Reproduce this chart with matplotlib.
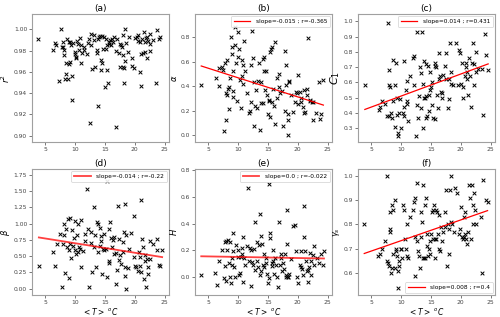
import matplotlib
matplotlib.use("Agg")
import matplotlib.pyplot as plt
import numpy as np

# ---------------- data ----------------
T_a = [3.8, 6.2, 6.6, 6.8, 7.2, 7.7, 7.8, 7.9, 8.0, 8.1, 8.2, 8.3, 8.4, 8.5, 8.7, 8.8, 8.9, 9.0, 9.1, 9.2,
       9.3, 9.5, 9.5, 9.6, 9.9, 10.0, 10.1, 10.2, 10.3, 10.4, 10.6, 10.8, 10.9, 11.0, 11.2, 11.4, 11.5, 11.9,
       12.2, 12.3, 12.5, 12.6, 12.7, 12.9, 13.1, 13.2, 13.4, 13.6, 13.6, 13.8, 13.9, 14.0, 14.2, 14.3, 14.4,
       14.5, 14.5, 14.7, 14.9, 15.0, 15.1, 15.1, 15.3, 15.4, 15.5, 15.6, 15.7, 15.9, 16.0, 16.2, 16.4, 16.6,
       16.8, 16.9, 17.0, 17.3, 17.5, 17.6, 17.7, 17.9, 18.0, 18.1, 18.1, 18.2, 18.2, 18.3, 18.4, 18.5, 18.8,
       19.1, 19.5, 19.6, 19.9, 20.1, 20.3, 20.5, 20.6, 20.8, 20.9, 21.1, 21.1, 21.3, 21.4, 21.5, 21.7, 21.8,
       21.9, 22.0, 22.1, 22.2, 22.5, 22.6, 22.5, 23.0, 23.6, 23.8, 24.0, 24.3]
r2 = [0.991, 0.981, 0.987, 0.985, 0.951, 1.000, 0.983, 0.988, 0.983, 0.976, 0.981, 0.953, 0.958, 0.968, 0.991,
      0.953, 0.988, 0.967, 0.969, 0.988, 0.985, 0.956, 0.934, 0.987, 0.979, 0.977, 0.974, 0.973, 0.989, 0.986,
      0.981, 0.992, 0.968, 0.985, 0.978, 0.983, 0.981, 0.977, 0.987, 0.991, 0.912, 0.985, 0.996, 0.963, 0.990,
      0.995, 0.965, 0.981, 0.978, 0.928, 0.991, 0.993, 0.994, 0.971, 0.962, 0.968, 0.994, 0.982, 0.993, 0.946,
      0.982, 0.991, 0.985, 0.962, 0.950, 0.986, 0.988, 0.990, 0.985, 0.991, 0.988, 0.993, 0.980, 0.908, 0.991,
      0.978, 0.965, 0.986, 0.985, 0.983, 0.965, 0.995, 0.976, 0.964, 0.950, 0.970, 1.000, 0.987, 0.979, 0.993,
      0.973, 0.966, 0.964, 0.992, 0.993, 0.995, 0.989, 0.988, 0.960, 0.977, 0.947, 0.991, 0.978, 0.998, 0.988,
      0.979, 0.992, 0.993, 0.973, 0.989, 0.996, 0.986, 0.980, 0.990, 0.950, 0.999, 0.991, 0.993]

T_b = [3.8, 6.2, 6.7, 6.8, 7.3, 7.5, 7.7, 7.8, 7.9, 8.0, 8.1, 8.2, 8.3, 8.4, 8.5, 8.6, 8.8, 8.9, 9.0, 9.1,
       9.2, 9.2, 9.4, 9.5, 9.6, 9.8, 9.9, 10.0, 10.1, 10.3, 10.4, 10.6, 10.7, 10.8, 10.8, 10.9, 11.2, 11.4,
       11.8, 11.9, 12.1, 12.2, 12.3, 12.5, 12.6, 12.7, 12.9, 13.0, 13.2, 13.4, 13.5, 13.7, 13.8, 13.9, 14.1,
       14.2, 14.3, 14.4, 14.5, 14.7, 14.8, 15.0, 15.1, 15.2, 15.3, 15.4, 15.5, 15.6, 15.7, 15.8, 16.0, 16.1,
       16.2, 16.5, 16.6, 16.8, 16.9, 17.0, 17.3, 17.5, 17.8, 17.9, 18.0, 18.1, 18.3, 18.3, 18.4, 18.5, 18.6,
       18.9, 19.2, 19.5, 19.7, 19.8, 20.0, 20.1, 20.3, 20.5, 20.6, 20.8, 21.0, 21.0, 21.3, 21.5, 21.6, 21.8,
       22.0, 22.1, 22.4, 22.6, 22.6, 23.1, 23.5, 23.7, 23.9, 24.3]
alpha = [0.41, 0.47, 0.55, 0.40, 0.56, 0.53, 0.03, 0.59, 0.12, 0.34, 0.61, 0.33, 0.38, 0.39, 0.21, 0.47, 0.80,
         0.66, 0.72, 0.52, 0.36, 0.31, 0.74, 0.88, 0.59, 0.28, 0.84, 0.64, 0.70, 0.45, 0.22, 0.61, 0.48, 0.42,
         0.57, 0.77, 0.52, 0.34, 0.18, 0.20, 0.27, 0.57, 0.85, 0.63, 0.07, 0.43, 0.24, 0.37, 0.22, 0.44, 0.59,
         0.04, 0.26, 0.43, 0.26, 0.62, 0.64, 0.52, 0.37, 0.52, 0.33, 0.17, 0.28, 0.29, 0.15, 0.68, 0.70, 0.27,
         0.72, 0.38, 0.24, 0.09, 0.76, 0.30, 0.47, 0.50, 0.39, 0.34, 0.36, 0.07, 0.20, 0.69, 0.41, 0.57, 0.12,
         0.17, 0.00, 0.43, 0.44, 0.33, 0.19, 0.27, 0.35, 0.34, 0.49, 0.25, 0.35, 0.30, 0.27, 0.23, 0.37, 0.18,
         0.19, 0.38, 0.33, 0.79, 0.29, 0.28, 0.27, 0.12, 0.27, 0.18, 0.43, 0.13, 0.17, 0.45]

T_c = [3.9, 6.2, 6.5, 6.8, 7.3, 7.6, 7.8, 7.9, 8.0, 8.1, 8.0, 8.3, 8.5, 8.6, 8.7, 8.9, 9.0, 9.1, 9.3, 9.3,
       9.5, 9.5, 9.7, 9.8, 10.0, 10.3, 10.4, 10.5, 10.5, 10.8, 10.9, 10.9, 11.0, 11.2, 11.5, 11.9, 12.1, 12.1,
       12.5, 12.6, 12.7, 12.8, 13.0, 13.1, 13.3, 13.4, 13.5, 13.6, 13.7, 13.8, 13.9, 14.0, 14.1, 14.2, 14.2,
       14.4, 14.5, 14.6, 14.7, 14.8, 14.9, 15.0, 15.1, 15.2, 15.4, 15.6, 15.7, 15.7, 15.9, 16.0, 16.1, 16.3,
       16.4, 16.5, 16.7, 16.8, 16.9, 17.1, 17.4, 17.5, 17.6, 17.9, 18.0, 18.0, 18.2, 18.3, 18.4, 18.7, 19.2,
       19.6, 19.7, 19.8, 20.1, 20.2, 20.3, 20.4, 20.7, 20.8, 20.9, 21.0, 21.1, 21.2, 21.4, 21.5, 21.8, 21.9,
       22.0, 22.2, 22.3, 22.5, 22.6, 22.9, 23.6, 23.7, 24.0, 24.3, 24.6]
C1 = [0.58, 0.42, 0.44, 0.48, 0.46, 0.38, 0.99, 0.68, 0.58, 0.57, 0.38, 0.40, 0.37, 0.75, 0.48, 0.31, 0.58,
      0.73, 0.50, 0.39, 0.27, 0.25, 0.40, 0.49, 0.30, 0.40, 0.38, 0.44, 0.74, 0.55, 0.61, 0.48, 0.46, 0.35,
      0.64, 0.76, 0.77, 0.58, 0.25, 0.93, 0.45, 0.37, 0.51, 0.70, 0.43, 0.66, 0.93, 0.59, 0.30, 0.50, 0.74,
      0.50, 0.72, 0.37, 0.51, 0.38, 0.71, 0.41, 0.52, 0.67, 0.55, 0.57, 0.60, 0.45, 0.37, 0.71, 0.73, 0.36,
      0.70, 0.52, 0.43, 0.79, 0.62, 0.64, 0.54, 0.53, 0.50, 0.65, 0.71, 0.79, 0.62, 0.43, 0.49, 0.62, 0.86,
      0.67, 0.59, 0.58, 0.86, 0.58, 0.81, 0.79, 0.59, 0.73, 0.50, 0.57, 0.64, 0.73, 0.70, 0.67, 0.62, 0.52,
      0.76, 0.64, 0.44, 0.73, 0.86, 0.58, 0.72, 0.80, 0.67, 0.69, 0.69, 0.39, 0.92, 0.78, 0.68]

T_d = [3.9, 6.2, 6.6, 6.9, 7.4, 7.8, 7.9, 8.1, 8.2, 8.3, 8.5, 8.6, 8.8, 8.9, 9.0, 9.2, 9.2, 9.3, 9.4, 9.6,
       9.8, 9.9, 10.0, 10.2, 10.3, 10.4, 10.5, 10.7, 10.8, 11.0, 11.0, 11.3, 11.6, 11.7, 12.0, 12.2, 12.4,
       12.6, 12.7, 12.8, 13.1, 13.2, 13.3, 13.5, 13.7, 13.8, 13.9, 14.1, 14.2, 14.3, 14.4, 14.5, 14.6, 14.8,
       14.9, 15.2, 15.4, 15.4, 15.6, 15.6, 15.7, 15.9, 16.0, 16.2, 16.3, 16.5, 16.6, 16.9, 16.9, 17.0, 17.2,
       17.3, 17.4, 17.6, 17.7, 18.0, 18.1, 18.2, 18.4, 18.4, 18.4, 18.6, 18.6, 18.8, 19.0, 19.3, 19.8, 19.9,
       20.0, 20.2, 20.5, 20.7, 20.8, 20.9, 21.1, 21.1, 21.3, 21.4, 21.6, 21.7, 21.8, 21.9, 22.0, 22.2, 22.3,
       22.5, 22.6, 23.0, 23.7, 23.8, 24.1, 24.3, 24.6]
beta = [0.35, 0.56, 0.35, 0.68, 0.84, 0.02, 0.69, 0.99, 0.82, 0.24, 0.92, 0.64, 1.07, 0.60, 0.16, 1.08, 0.69,
        0.47, 0.90, 0.66, 0.78, 0.60, 1.04, 0.53, 0.82, 0.56, 0.99, 0.64, 0.61, 1.05, 0.34, 0.58, 0.84, 0.73,
        1.54, 0.92, 0.02, 0.87, 0.70, 0.25, 0.64, 1.26, 0.82, 0.33, 1.03, 0.56, 1.00, 0.66, 0.94, 0.81, 0.74,
        0.22, 0.61, 0.84, 0.59, 0.61, 1.65, 0.18, 0.92, 0.43, 0.39, 1.02, 0.78, 0.64, 0.75, 0.53, 0.79, 0.07,
        0.55, 0.28, 1.27, 0.76, 0.44, 0.52, 0.38, 0.71, 0.56, 0.87, 1.30, 0.33, 0.20, 0.82, 0.00, 0.31, 0.61,
        0.86, 1.11, 0.49, 0.35, 0.33, 0.27, 0.56, 0.48, 0.35, 1.37, 0.25, 0.77, 0.64, 0.15, 0.52, 0.43, 0.02,
        0.46, 0.33, 0.23, 0.73, 0.46, 0.69, 0.60, 0.77, 0.37, 0.35, 0.59]

T_e = [3.8, 6.1, 6.4, 6.8, 7.2, 7.6, 7.8, 7.8, 7.9, 8.0, 8.1, 8.3, 8.4, 8.6, 8.7, 8.8, 8.9, 9.0, 9.2, 9.2,
       9.3, 9.4, 9.6, 9.9, 10.0, 10.1, 10.3, 10.4, 10.6, 10.7, 10.8, 10.8, 11.0, 11.1, 11.4, 11.7, 11.8, 11.9,
       12.1, 12.2, 12.3, 12.5, 12.7, 12.9, 12.9, 13.1, 13.2, 13.3, 13.5, 13.6, 13.6, 13.8, 13.9, 14.0, 14.2,
       14.3, 14.4, 14.6, 14.7, 14.8, 15.0, 15.1, 15.2, 15.3, 15.4, 15.6, 15.7, 15.8, 15.9, 16.0, 16.1, 16.4,
       16.6, 16.7, 16.8, 17.0, 17.2, 17.2, 17.3, 17.5, 17.7, 17.9, 18.0, 18.1, 18.2, 18.2, 18.3, 18.4, 18.6,
       18.9, 19.2, 19.6, 19.7, 19.9, 20.1, 20.3, 20.5, 20.6, 20.7, 20.8, 21.0, 21.1, 21.2, 21.4, 21.6, 21.7,
       21.8, 21.9, 22.1, 22.2, 22.3, 22.5, 22.7, 22.8, 23.3, 23.6, 23.9, 24.2, 24.4]
H = [0.01, 0.03, -0.06, 0.12, 0.20, -0.01, 0.08, 0.26, 0.27, -0.03, 0.20, 0.28, 0.10, 0.26, 0.00, -0.05, 0.09,
     0.14, 0.33, 0.19, 0.07, 0.00, 0.24, 0.15, 0.20, 0.01, 0.03, 0.15, 0.22, 0.17, 0.30, -0.04, 0.14, 0.09,
     0.23, 0.67, 0.12, 0.22, 0.20, -0.07, 0.11, 0.09, 0.21, 0.41, 0.05, 0.12, 0.26, 0.07, 0.24, 0.01, 0.47,
     0.04, 0.31, 0.25, 0.09, 0.17, 0.07, 0.14, 0.10, 0.02, -0.05, 0.70, -0.01, 0.33, 0.29, 0.10, 0.08, 0.20,
     0.12, 0.02, 0.14, 0.09, 0.00, -0.08, 0.41, 0.09, 0.17, 0.14, 0.04, 0.10, 0.06, 0.17, 0.01, 0.00, 0.50,
     0.25, 0.00, 0.00, 0.02, 0.13, 0.38, 0.39, 0.19, 0.00, -0.05, 0.09, 0.19, 0.07, 0.06, 0.01, 0.53, 0.30,
     0.19, 0.12, 0.04, 0.05, -0.04, 0.07, 0.18, 0.12, 0.01, 0.16, 0.09, 0.23, 0.14, 0.10, 0.17, 0.09, 0.19]

T_f = [3.8, 6.1, 6.4, 6.7, 7.2, 7.6, 7.7, 7.8, 7.9, 8.1, 8.2, 8.1, 8.3, 8.4, 8.5, 8.6, 8.7, 8.9, 9.0, 9.1,
       9.2, 9.3, 9.4, 9.5, 9.6, 9.7, 9.9, 10.0, 10.2, 10.3, 10.4, 10.6, 10.8, 10.9, 11.0, 11.1, 11.4, 11.9,
       12.1, 12.3, 12.4, 12.4, 12.6, 12.7, 12.8, 13.0, 13.2, 13.3, 13.4, 13.5, 13.6, 13.7, 13.9, 14.0, 14.0,
       14.2, 14.3, 14.4, 14.5, 14.6, 14.8, 14.9, 15.0, 15.2, 15.3, 15.4, 15.5, 15.6, 15.7, 15.8, 15.9, 16.0,
       16.1, 16.3, 16.4, 16.6, 16.7, 16.9, 17.0, 17.3, 17.4, 17.5, 17.7, 17.9, 18.0, 18.1, 18.2, 18.3, 18.4,
       18.6, 18.9, 19.1, 19.4, 19.7, 19.9, 20.0, 20.2, 20.3, 20.5, 20.6, 20.7, 20.7, 20.8, 21.0, 21.3, 21.4,
       21.5, 21.7, 21.9, 22.0, 22.1, 22.3, 22.4, 22.6, 23.4, 23.6, 23.8, 24.2, 24.5]
gamma_s = [0.80, 0.67, 0.68, 0.70, 0.73, 1.00, 0.65, 0.64, 0.63, 0.77, 0.78, 0.85, 0.60, 0.62, 0.88, 0.86,
           0.68, 0.62, 0.90, 0.69, 0.70, 0.67, 0.54, 0.61, 0.65, 0.63, 0.70, 0.70, 0.66, 0.88, 0.86, 0.74, 0.70,
           0.80, 0.67, 0.66, 0.83, 0.86, 0.89, 0.91, 0.75, 0.59, 0.97, 0.73, 0.69, 0.67, 0.62, 0.85, 0.75, 0.81,
           0.96, 0.66, 0.66, 0.88, 0.66, 0.91, 0.76, 0.71, 0.67, 0.70, 0.68, 0.73, 0.76, 0.85, 0.74, 0.86, 0.88,
           0.74, 0.66, 0.86, 0.74, 0.85, 0.76, 0.70, 0.84, 0.69, 0.79, 0.73, 0.77, 0.79, 0.85, 0.94, 0.63, 0.80,
           0.78, 0.68, 0.94, 1.00, 0.81, 0.80, 0.77, 0.95, 0.93, 0.76, 0.78, 0.87, 0.75, 0.74, 0.75, 0.83, 0.85,
           0.76, 0.74, 0.72, 0.77, 0.96, 0.91, 0.74, 0.96, 0.80, 0.88, 0.93, 0.86, 0.80, 0.83, 0.60, 0.98, 0.90,
           0.89]

fit_slope = [None, -0.0156, 0.0144, -0.0146, -0.0008, 0.0085]
fit_intercept = [None, 0.624, 0.367, 0.844, 0.157, 0.648]
fit_labels = [None, "slope=-0.015 ; r=-0.365", "slope=0.014 ; r=0.431",
              "slope=-0.014 ; r=-0.22", "slope=0.0 ; r=-0.022", "slope=0.008 ; r=0.4"]
titles = ["(a)", "(b)", "(c)", "(d)", "(e)", "(f)"]
ylabels = [r"$r^2$", r"$\alpha$", r"$C_1$", r"$\beta$", r"$H$", r"$\gamma_s$"]
xlabel = r"$<T>$ $^oC$"
ylims = [(0.894, 1.0145), (-0.057, 0.99), (0.21, 1.048), (-0.098, 1.84), (-0.137, 0.81), (0.51, 1.027)]
yticks = [[0.90, 0.92, 0.94, 0.96, 0.98, 1.00], [0.0, 0.2, 0.4, 0.6, 0.8],
          [0.3, 0.4, 0.5, 0.6, 0.7, 0.8, 0.9, 1.0], [0.0, 0.25, 0.5, 0.75, 1.0, 1.25, 1.5, 1.75],
          [0.0, 0.2, 0.4, 0.6, 0.8], [0.6, 0.7, 0.8, 0.9, 1.0]]
ytickfmt = ["%.2f", "%.1f", "%.1f", "%.2f", "%.1f", "%.1f"]
legend_loc = [None, "upper right", "upper right", "upper right", "upper right", "lower right"]
line_alpha = [1, 1, 1, 0.75, 0.75, 1]
line_width = [1, 0.9, 0.9, 1.3, 1.3, 0.9]

Ts = [T_a, T_b, T_c, T_d, T_e, T_f]
Ys = [r2, alpha, C1, beta, H, gamma_s]

# ---------------- figure ----------------
fig = plt.figure(figsize=(5.0, 3.17), dpi=100)
W, Hh = 500.0, 317.0
lefts = [32, 195, 358]
width = 137
rows = [(14, 142), (169, 295)]
spine_col = "#a0a0a0"

for i in range(6):
    r, c = divmod(i, 3)
    top, bot = rows[r]
    ax = fig.add_axes([lefts[c] / W, 1 - bot / Hh, width / W, (bot - top) / Hh])
    ax.scatter(Ts[i], Ys[i], marker="x", s=7, c="black", linewidths=0.7, zorder=3)
    if fit_slope[i] is not None:
        xs = np.array([min(Ts[i]), max(Ts[i])])
        ax.plot(xs, fit_slope[i] * xs + fit_intercept[i], color="red", lw=line_width[i],
                alpha=line_alpha[i], label=fit_labels[i], zorder=4)
        leg = ax.legend(loc=legend_loc[i], fontsize=4.2, handlelength=2.8,
                        borderpad=0.5, handletextpad=1.0, framealpha=0.9,
                        borderaxespad=0.3)
        leg.get_frame().set_linewidth(0.5)
    ax.set_xlim(2.75, 25.75)
    ax.set_ylim(*ylims[i])
    ax.set_xticks([5, 10, 15, 20, 25])
    ax.set_yticks(yticks[i])
    ax.yaxis.set_major_formatter(matplotlib.ticker.FormatStrFormatter(ytickfmt[i]))
    ax.set_title(titles[i], fontsize=6.5, pad=2)
    ax.set_ylabel(ylabels[i], fontsize=8 if i == 2 else 6, labelpad=1.5)
    if r == 1:
        ax.set_xlabel(xlabel, fontsize=5.5, labelpad=1)
    ax.tick_params(labelsize=4.3, length=2, width=0.5, pad=1.5, colors="#444444")
    for s in ax.spines.values():
        s.set_color(spine_col)
        s.set_linewidth(0.8)

fig.savefig("out.png", dpi=100)
